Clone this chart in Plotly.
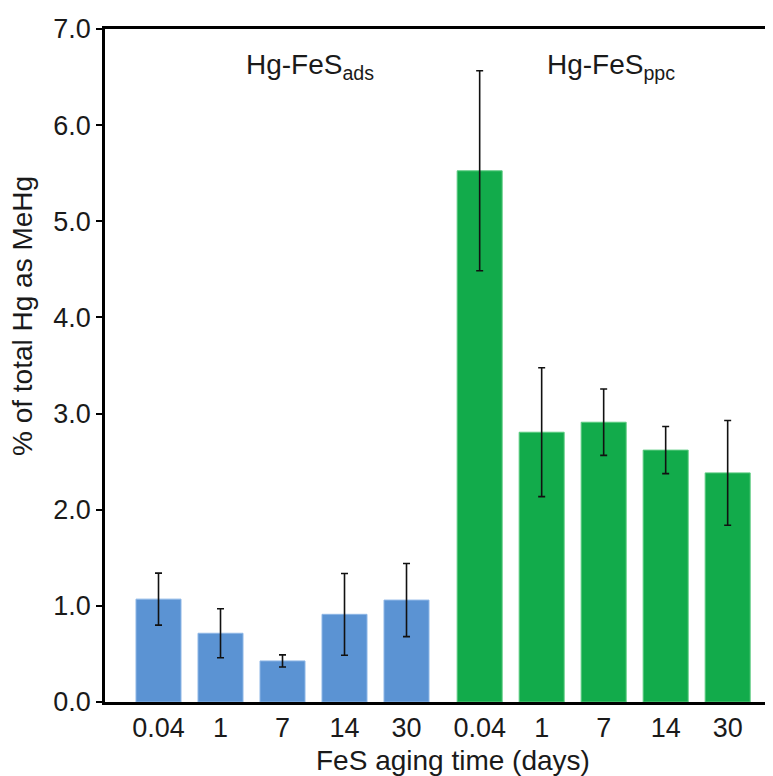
import plotly.graph_objects as go

aging_days = ["0.04", "1", "7", "14", "30"]
ads_values = [1.07, 0.715, 0.427, 0.912, 1.06]
ads_errors = [0.27, 0.255, 0.063, 0.425, 0.38]
ppc_values = [5.525, 2.806, 2.91, 2.62, 2.383]
ppc_errors = [1.04, 0.67, 0.345, 0.245, 0.545]
y_ticks = [0.0, 1.0, 2.0, 3.0, 4.0, 5.0, 6.0, 7.0]

GROUP_GAP = 5.18
BAR_W = 0.726
OFF = 8  # page body margin
W, H = 773 - OFF, 776 - OFF
PL, PR, PT, PB = 105, 772, 29, 702  # plot area in page pixels
L, T = PL - OFF, PT - OFF
R = (W + OFF) - PR
B = (H + OFF) - PB


def px_to_paper_x(px):
    return (px - PL) / (PR - PL)


def px_to_paper_y(py):
    return (PB - py) / (PB - PT)


x_ads = [i for i in range(len(aging_days))]
x_ppc = [i + GROUP_GAP for i in range(len(aging_days))]

FONT = "Liberation Sans, Arial, sans-serif"

fig = go.Figure()
fig.add_trace(go.Bar(
    x=x_ads, y=ads_values, width=BAR_W,
    marker=dict(color="#5B93D3", line=dict(color="#8DB6E6", width=1)),
    error_y=dict(type="data", array=ads_errors, color="#111111", thickness=1.6, width=3.5),
    showlegend=False,
))
fig.add_trace(go.Bar(
    x=x_ppc, y=ppc_values, width=BAR_W,
    marker=dict(color="#12AB4B", line=dict(color="#5CCB80", width=1)),
    error_y=dict(type="data", array=ppc_errors, color="#111111", thickness=1.6, width=3.5),
    showlegend=False,
))

fig.update_layout(
    width=W, height=H,
    margin=dict(l=L, r=R, t=T, b=B, pad=0),
    paper_bgcolor="white", plot_bgcolor="white",
    font=dict(family=FONT, size=27, color="#1a1a1a"),
    xaxis=dict(
        range=[-0.863, 9.895],
        tickvals=x_ads + x_ppc,
        ticktext=aging_days + aging_days,
        showline=True, linecolor="black", linewidth=2.5, mirror=True,
        ticks="", showgrid=False, zeroline=False,
        tickfont=dict(size=27),
    ),
    yaxis=dict(
        range=[0, 7.0],
        tickvals=y_ticks,
        ticktext=[f"{v:.1f}" for v in y_ticks],
        showline=True, linecolor="black", linewidth=2.5,
        ticks="outside", ticklen=6, tickwidth=2, tickcolor="black",
        showgrid=False, zeroline=False,
        tickfont=dict(size=27),
    ),
    shapes=[dict(type="line", xref="paper", yref="paper", x0=1, x1=1, y0=0, y1=1,
                 line=dict(color="#aaaaaa", width=1))],
    annotations=[
        dict(text="Hg-FeS<sub>ads</sub>", xref="paper", yref="paper",
             x=px_to_paper_x(310), y=px_to_paper_y(66),
             showarrow=False, font=dict(size=28), xanchor="center", yanchor="middle"),
        dict(text="Hg-FeS<sub>ppc</sub>", xref="paper", yref="paper",
             x=px_to_paper_x(611), y=px_to_paper_y(66),
             showarrow=False, font=dict(size=28), xanchor="center", yanchor="middle"),
        dict(text="FeS aging time (days)", xref="paper", yref="paper",
             x=px_to_paper_x(453), y=px_to_paper_y(760),
             showarrow=False, font=dict(size=28), xanchor="center", yanchor="middle"),
        dict(text="% of total Hg as MeHg", xref="paper", yref="paper",
             x=px_to_paper_x(22), y=px_to_paper_y(316),
             showarrow=False, textangle=-90, font=dict(size=28),
             xanchor="center", yanchor="middle"),
    ],
)

fig.write_html("out.html")
